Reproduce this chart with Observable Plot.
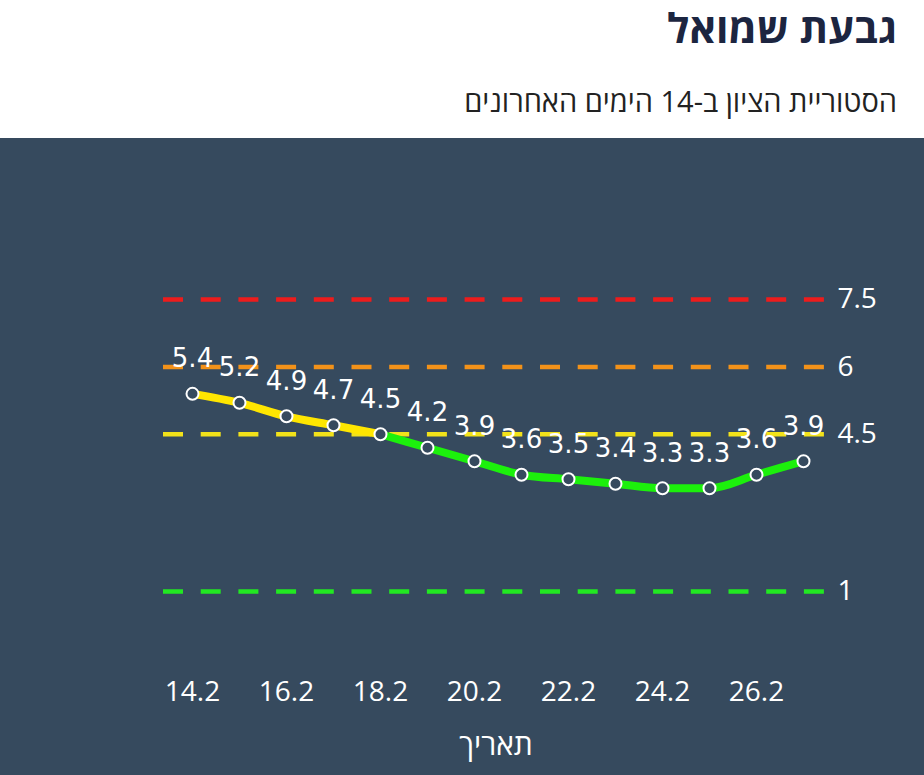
<!DOCTYPE html>
<html lang="he">
<head>
<meta charset="utf-8">
<script src="https://cdn.jsdelivr.net/npm/d3@7"></script>
<script src="https://cdn.jsdelivr.net/npm/@observablehq/plot@0.6"></script>
<style>
  html, body { margin: 0; padding: 0; background: #ffffff; }
  body { width: 924px; overflow: hidden; font-family: "Open Sans", sans-serif; }
  .head { height: 138px; position: relative; direction: rtl; }
  .title { position: absolute; right: 27px; top: 1px; font-size: 41px; font-weight: 700; color: #1c2540; margin: 0; line-height: 1.3; }
  .subtitle { position: absolute; right: 27px; top: 82px; font-size: 29px; color: #222; margin: 0; line-height: 1.3; }
  #chart svg { display: block; }
</style>
</head>
<body>
<div class="head">
  <h1 class="title">גבעת שמואל</h1>
  <div class="subtitle">הסטוריית הציון ב-14 הימים האחרונים</div>
</div>
<div id="chart"></div>
<script>
const dates = ["14.2","15.2","16.2","17.2","18.2","19.2","20.2","21.2","22.2","23.2","24.2","25.2","26.2","27.2"];
const scores = [5.4, 5.2, 4.9, 4.7, 4.5, 4.2, 3.9, 3.6, 3.5, 3.4, 3.3, 3.3, 3.6, 3.9];
const tickLabels = ["14.2","16.2","18.2","20.2","22.2","24.2","26.2"];
const thresholds = [7.5, 6, 4.5, 1];
const thresholdColors = ["#ee1c1c", "#f39219", "#f2e21a", "#22e822"];
const xLabel = "תאריך";
const yellowUntil = 4; // index where the line switches from yellow to green

const points = dates.map((d, i) => ({date: d, score: scores[i]}));
const yellowSeg = points.slice(0, yellowUntil + 1);
const greenSeg = points.slice(yellowUntil);
const levels = thresholds.map((v, i) => ({v, c: thresholdColors[i]}));

const bg = "#364a5e";

const chart = Plot.plot({
  width: 924,
  height: 637,
  marginLeft: 163,
  marginRight: 96,
  marginTop: 20,
  marginBottom: 107,
  style: {background: bg, color: "#ffffff", fontFamily: "Open Sans, sans-serif", overflow: "visible"},
  x: {type: "point", domain: dates, range: [189, 806], padding: 0},
  y: {domain: [1, 7.5], range: [453, 161], axis: null},
  marks: [
    Plot.ruleY(levels, {y: "v", stroke: "c", strokeWidth: 4.5, strokeDasharray: "20,17.7"}),
    Plot.text(levels, {y: "v", x: () => dates[dates.length - 1], text: d => String(d.v), dx: 34, textAnchor: "start", fill: "#ffffff", fontSize: 28}),
    Plot.line(yellowSeg, {x: "date", y: "score", stroke: "#ffe600", strokeWidth: 8, curve: "monotone-x"}),
    Plot.line(greenSeg, {x: "date", y: "score", stroke: "#1cf00c", strokeWidth: 8, curve: "monotone-x"}),
    Plot.dot(points, {x: "date", y: "score", r: 6, fill: bg, stroke: "#ffffff", strokeWidth: 2}),
    Plot.text(points, {x: "date", y: "score", text: d => d.score.toFixed(1), dy: -35, fill: "#ffffff", fontSize: 26, fontFamily: "DejaVu Sans, sans-serif"}),
    Plot.axisX({ticks: tickLabels, tickSize: 0, tickPadding: 13, fontSize: 28, label: null, color: "#ffffff"}),
    Plot.text([xLabel], {frameAnchor: "bottom", dy: 86, fill: "#ffffff", fontSize: 30, fontFamily: "Open Sans, sans-serif"})
  ]
});
document.getElementById("chart").appendChild(chart);
</script>
</body>
</html>
